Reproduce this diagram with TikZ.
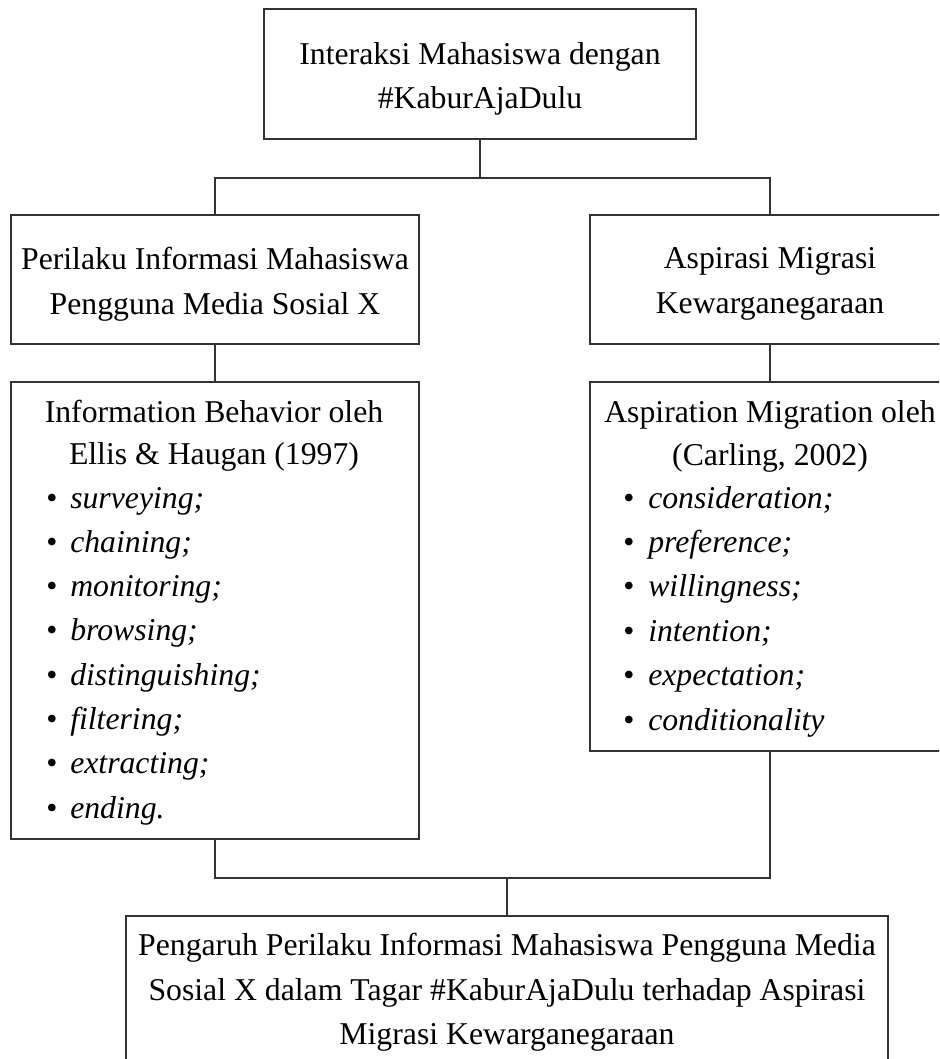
\documentclass[tikz,border=0pt]{standalone}
\usepackage{fontspec}
\setmainfont{Liberation Serif}
\newcommand{\fs}{\fontsize{23.8}{33.4}\selectfont}
\newcommand{\pxl}[1]{#1*0.75pt}
\tikzset{
  box/.style={draw=black!80, line width=1pt, rectangle, inner sep=0pt},
  conn/.style={draw=black!80, line width=1pt},
  txt/.style={inner sep=0pt, font=\fs},
  ctxt/.style={inner sep=0pt, font=\fs, align=center},
  itm/.style={inner sep=0pt, font=\fs\itshape, anchor=base west},
  bul/.style={inner sep=0pt, font=\fs, anchor=base},
}
\begin{document}
\begin{tikzpicture}[x=0.75pt,y=-0.75pt]
\useasboundingbox (0,0) rectangle (939,1059);
\clip (0,0) rectangle (939,1059);
% boxes
\node[box, minimum width=\pxl{432}, minimum height=\pxl{130}] (top) at (480,74) {};
\node[box, minimum width=\pxl{408}, minimum height=\pxl{129}] (L1) at (215,279.5) {};
\node[box, minimum width=\pxl{360}, minimum height=\pxl{129}] (R1) at (770,279.5) {};
\node[box, minimum width=\pxl{408}, minimum height=\pxl{457}] (L2) at (215,610.5) {};
\node[box, minimum width=\pxl{360}, minimum height=\pxl{369}] (R2) at (770,566.5) {};
\node[box, minimum width=\pxl{762}, minimum height=\pxl{148}] (bot) at (507,990) {};
% box texts
\node[ctxt] (topt) at ([yshift=-3.5pt]top.center) {Interaksi Mahasiswa dengan\\\#KaburAjaDulu};
\node[ctxt] (L1t) at ([yshift=-3.5pt]L1.center) {Perilaku Informasi Mahasiswa\\Pengguna Media Sosial X};
\node[ctxt] (R1t) at ([yshift=-3.5pt]R1.center) {Aspirasi Migrasi\\Kewarganegaraan};
\node[ctxt] (bott) at ([yshift=-2pt]bot.center) {Pengaruh Perilaku Informasi Mahasiswa Pengguna Media\\Sosial X dalam Tagar \#KaburAjaDulu terhadap Aspirasi\\Migrasi Kewarganegaraan};
% left list box content
\node[txt, anchor=base] (L2t1) at (214,422) {Information Behavior oleh};
\node[txt, anchor=base] (L2t2) at (214,464) {Ellis \& Haugan (1997)};
\foreach \t [count=\i] in {surveying;, chaining;, monitoring;, browsing;, distinguishing;, filtering;, extracting;, ending.} {
  \node[bul] (Lb\i) at (52,{508+(\i-1)*44.3}) {•};
  \node[itm] (Li\i) at (70,{508+(\i-1)*44.3}) {\t};
}
% right list box content
\node[txt, anchor=base] (R2t1) at (770,422) {Aspiration Migration oleh};
\node[txt, anchor=base] (R2t2) at (770,465) {(Carling, 2002)};
\foreach \t [count=\i] in {consideration;, preference;, willingness;, intention;, expectation;, conditionality} {
  \node[bul] (Rb\i) at (629,{508+(\i-1)*44.4}) {•};
  \node[itm] (Ri\i) at (648,{508+(\i-1)*44.4}) {\t};
}
% connectors
\coordinate (jT) at (480,178);
\coordinate (jB) at (507,878);
\draw[conn] (top.south) -- (jT);
\draw[conn] (L1.north) |- (jT) -| (R1.north);
\draw[conn] (L1.south) -- (L2.north);
\draw[conn] (R1.south) -- (R2.north);
\draw[conn] (L2.south) |- (jB) -| (R2.south);
\draw[conn] (jB) -- (bot.north);
\end{tikzpicture}
\end{document}
